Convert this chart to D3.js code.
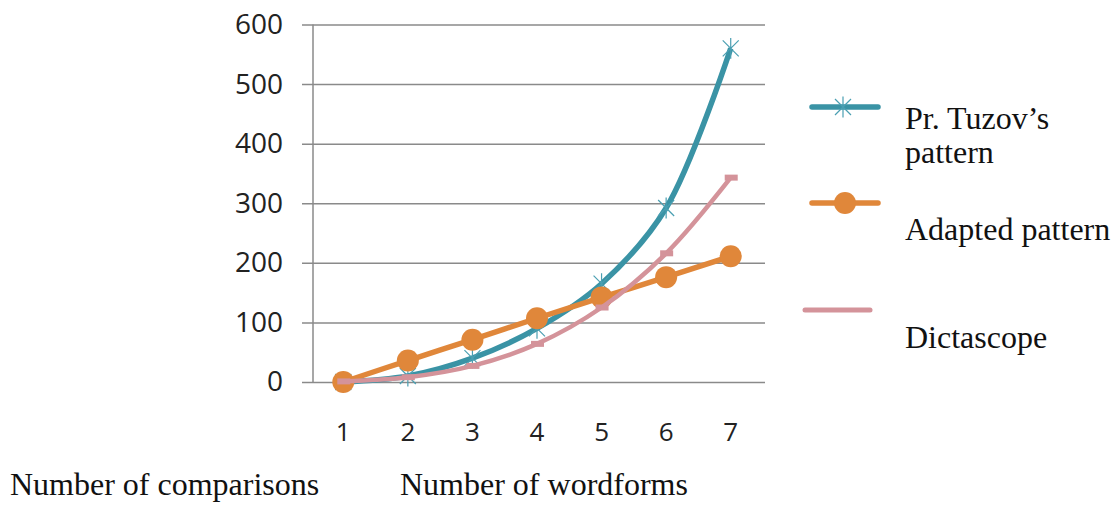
<!DOCTYPE html>
<html>
<head>
<meta charset="utf-8">
<script src="https://cdn.jsdelivr.net/npm/d3@7"></script>
<style>
  body { margin: 0; background: #fff; }
  svg { display: block; }
</style>
</head>
<body>
<svg id="chart" width="1118" height="505"></svg>
<script>
// chart values
const wordforms = [1, 2, 3, 4, 5, 6, 7];
const tuzov = [0, 10, 40, 90, 165, 292, 560];
const adapted = [0, 36, 71, 107, 142, 176, 211];
const dictascope = [1, 8, 27, 64, 125, 216, 343];
const yTicks = [0, 100, 200, 300, 400, 500, 600];
const seriesNames = ["Pr. Tuzov\u2019s pattern", "Adapted pattern", "Dictascope"];

const teal = "#3a93a5";
const orange = "#e0873a";
const pink = "#d4939a";

const svg = d3.select("#chart");

const x = d3.scaleBand()
  .domain(wordforms)
  .range([311, 763])
  .padding(0);

const y = d3.scaleLinear()
  .domain([0, 600])
  .range([382, 24.5]);

const cx = d => x(d) + x.bandwidth() / 2;

// gridlines + y labels
const yAxis = svg.append("g")
  .attr("transform", "translate(765,0)")
  .call(d3.axisLeft(y).tickValues(yTicks).tickSize(463).tickPadding(19));
yAxis.select(".domain").remove();
yAxis.selectAll("line").attr("stroke", "#8a8a8a").attr("stroke-width", 1.5);
yAxis.selectAll("text")
  .attr("font-family", "'Open Sans', sans-serif")
  .attr("font-size", 28)
  .attr("fill", "#222");

// vertical axis line
svg.append("line")
  .attr("x1", 313).attr("x2", 313)
  .attr("y1", y(600)).attr("y2", y(0))
  .attr("stroke", "#8a8a8a").attr("stroke-width", 1.5);

// x labels
const xAxis = svg.append("g")
  .attr("transform", `translate(0,${y(0)})`)
  .call(d3.axisBottom(x).tickSize(0).tickPadding(41));
xAxis.select(".domain").remove();
xAxis.selectAll("text")
  .attr("font-family", "'Open Sans', sans-serif")
  .attr("font-size", 26)
  .attr("fill", "#222");

const line = d3.line()
  .x((d, i) => cx(wordforms[i]))
  .y(d => y(d))
  .curve(d3.curveCatmullRom.alpha(0.5));

function starPath(px, py, r) {
  return `M${px - r},${py - r}L${px + r},${py + r}M${px - r},${py + r}L${px + r},${py - r}M${px},${py - r * 1.3}L${px},${py + r * 1.3}`;
}

// Tuzov
svg.append("path")
  .attr("d", line(tuzov))
  .attr("fill", "none").attr("stroke", teal).attr("stroke-width", 5.5);
svg.append("g").selectAll("path")
  .data(tuzov)
  .join("path")
  .attr("d", (d, i) => starPath(cx(wordforms[i]), y(d), 8))
  .attr("stroke", "#4a9fb2").attr("stroke-width", 1.2).attr("fill", "none");

// Adapted
svg.append("path")
  .attr("d", line(adapted))
  .attr("fill", "none").attr("stroke", orange).attr("stroke-width", 5.5);
svg.append("g").selectAll("circle")
  .data(adapted)
  .join("circle")
  .attr("cx", (d, i) => cx(wordforms[i]))
  .attr("cy", d => y(d))
  .attr("r", 11)
  .attr("fill", orange);

// Dictascope
svg.append("path")
  .attr("d", line(dictascope))
  .attr("fill", "none").attr("stroke", pink).attr("stroke-width", 4.5);
svg.append("g").selectAll("rect")
  .data(dictascope)
  .join("rect")
  .attr("x", (d, i) => cx(wordforms[i]) - 6)
  .attr("y", d => y(d) - 3)
  .attr("width", 13).attr("height", 6)
  .attr("fill", pink);

// legend
const legend = svg.append("g");
legend.append("line")
  .attr("x1", 812).attr("x2", 878).attr("y1", 107).attr("y2", 107)
  .attr("stroke", teal).attr("stroke-width", 5.5).attr("stroke-linecap", "round");
legend.append("path")
  .attr("d", starPath(843, 107, 8))
  .attr("stroke", "#4a9fb2").attr("stroke-width", 1.2).attr("fill", "none");
legend.append("line")
  .attr("x1", 812).attr("x2", 878).attr("y1", 203).attr("y2", 203)
  .attr("stroke", orange).attr("stroke-width", 5.5).attr("stroke-linecap", "round");
legend.append("circle")
  .attr("cx", 845).attr("cy", 203).attr("r", 11).attr("fill", orange);
legend.append("line")
  .attr("x1", 805).attr("x2", 870).attr("y1", 310).attr("y2", 310)
  .attr("stroke", pink).attr("stroke-width", 5).attr("stroke-linecap", "round");

const serif = "'Liberation Serif', 'Times New Roman', serif";
const legendText = legend.append("g")
  .attr("font-family", serif)
  .attr("font-size", 32)
  .attr("fill", "#111");
legendText.append("text").attr("x", 905).attr("y", 129).text("Pr. Tuzov\u2019s");
legendText.append("text").attr("x", 905).attr("y", 163).text("pattern");
legendText.append("text").attr("x", 905).attr("y", 240).text(seriesNames[1]);
legendText.append("text").attr("x", 905).attr("y", 348).text(seriesNames[2]);

// bottom captions
svg.append("text")
  .attr("x", 10).attr("y", 495)
  .attr("font-family", serif).attr("font-size", 32).attr("fill", "#111")
  .text("Number of comparisons");
svg.append("text")
  .attr("x", 400).attr("y", 495)
  .attr("font-family", serif).attr("font-size", 32).attr("fill", "#111")
  .text("Number of wordforms");
</script>
</body>
</html>
